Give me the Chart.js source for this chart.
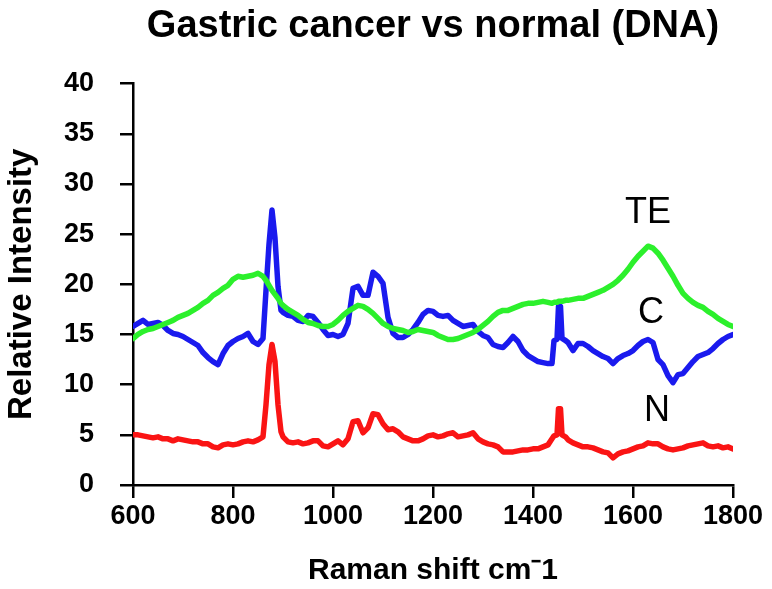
<!DOCTYPE html>
<html>
<head>
<meta charset="utf-8">
<script src="https://cdn.jsdelivr.net/npm/chart.js@4/dist/chart.umd.min.js"></script>
<style>
  html, body { margin: 0; padding: 0; background: #ffffff; }
  #wrap { width: 772px; height: 589px; }
</style>
</head>
<body>
<div id="wrap"><canvas id="c" width="772" height="589"></canvas></div>
<script>
// ---------- DATA ----------
const wavenumbers = [
  600,610,620,630,640,650,660,670,680,690,700,710,720,730,740,750,760,770,780,790,800,810,820,830,840,850,860,
  866,872,878,884,890,896,
  900,910,920,930,940,950,960,970,980,990,
  1000,1010,1020,1030,1040,1050,1060,1070,1080,1090,
  1100,1110,1120,1130,1140,1150,1160,1170,1180,1190,
  1200,1210,1220,1230,1240,1250,1260,1270,1280,1290,
  1300,1310,1320,1330,1340,1350,1360,1370,1380,1390,
  1400,1410,1420,1430,
  1438,1442,1448,1451,1455,1458,1465,
  1470,1480,1490,1500,1510,1520,1530,1540,1550,1560,
  1570,1580,1590,1600,1610,1620,1630,1640,1650,1660,
  1670,1680,1690,1700,1710,1720,1730,1740,1750,1760,
  1770,1780,1790,1800
];

const seriesTE = [
  14.6,15.0,15.3,15.5,15.6,15.8,16.0,16.2,16.4,16.7, 16.9,17.1,17.4,17.7,18.1,18.4,18.9,19.2,19.6,19.9, 20.5,20.8,20.7,20.8,20.9,21.1,20.8,
  20.4,19.9,19.4,19.0,18.6,18.1,
  17.9,17.5,17.2,16.9,16.5,16.2,16.1,15.9,15.8,15.8,
  16.0,16.4,16.9,17.3,17.6,17.9,17.8,17.5,17.1,16.6,
  16.1,15.8,15.6,15.5,15.4,15.2,15.3,15.5,15.4,15.3,
  15.2,14.9,14.7,14.5,14.5,14.6,14.8,15.0,15.2,15.5,
  15.9,16.3,16.8,17.2,17.4,17.4,17.6,17.8,18.0,18.1,
  18.1,18.2,18.3,18.2,
  18.1,18.2,18.2,18.3,18.3,18.3,18.4,
  18.4,18.5,18.6,18.6,18.8,19.0,19.2,19.4,19.7,20.0,
  20.4,20.9,21.5,22.2,22.8,23.3,23.8,23.6,23.1,22.4,
  21.6,20.8,19.9,19.1,18.6,18.2,17.9,17.7,17.3,17.0,
  16.6,16.3,16.0,15.8
];

const seriesC = [
  15.8,16.1,16.4,16.0,16.1,16.2,15.9,15.4,15.1,15.0, 14.8,14.5,14.2,13.9,13.2,12.7,12.3,12.0,13.1,13.9, 14.3,14.6,14.8,15.1,14.3,14.0,14.6,
  19.4,24.0,27.4,24.6,19.8,17.4,
  17.2,16.9,16.8,16.4,16.3,16.9,16.8,16.2,15.5,14.9,
  15.0,14.8,15.0,16.1,19.6,19.8,18.9,18.9,21.2,20.8,
  20.1,16.7,15.1,14.7,14.7,15.0,15.5,16.2,17.0,17.4,
  17.3,16.9,16.8,16.9,16.4,16.1,15.8,15.9,16.0,15.3,
  14.9,14.7,14.0,13.8,13.7,14.2,14.8,14.3,13.4,12.9,
  12.6,12.3,12.2,12.1,
  12.1,14.4,14.5,17.8,17.8,14.6,14.4,
  14.2,13.4,14.1,14.1,13.8,13.4,13.1,12.8,12.6,12.1,
  12.6,12.9,13.1,13.4,13.9,14.3,14.5,14.2,12.5,12.0,
  10.9,10.2,11.0,11.1,11.7,12.3,12.8,13.0,13.2,13.6,
  14.1,14.5,14.8,15.0
];

const seriesN = [
  5.0,5.0,4.9,4.8,4.7,4.8,4.6,4.6,4.4,4.6, 4.5,4.4,4.3,4.3,4.1,4.1,3.8,3.7,4.0,4.1, 4.0,4.1,4.3,4.4,4.3,4.5,4.8,
  8.0,12.0,14.0,12.3,8.0,5.3,
  4.8,4.3,4.2,4.3,4.1,4.2,4.4,4.4,3.9,3.8,
  4.1,4.4,4.0,4.6,6.3,6.4,5.2,5.7,7.1,7.0,
  6.1,5.5,5.6,5.3,4.8,4.6,4.4,4.4,4.6,4.9,
  5.0,4.8,4.9,5.1,5.2,4.8,4.9,5.0,5.2,4.6,
  4.3,4.1,4.0,3.8,3.3,3.3,3.3,3.4,3.5,3.5,
  3.6,3.6,3.8,4.0,
  4.6,4.9,5.0,7.6,7.6,5.0,4.8,
  4.5,4.2,4.0,3.8,3.8,3.7,3.5,3.3,3.2,2.7,
  3.1,3.3,3.4,3.6,3.8,3.9,4.2,4.1,4.1,3.8,
  3.6,3.5,3.6,3.7,3.9,4.0,4.1,4.2,3.9,3.8,
  3.9,3.7,3.8,3.6
];

const seriesNames = ['TE', 'C', 'N'];
const xTicks = [600, 800, 1000, 1200, 1400, 1600, 1800];
const yTicks = [0, 5, 10, 15, 20, 25, 30, 35, 40];

// In-plot series labels (data coordinates)
const labelTexts = ['TE', 'C', 'N'];
const labelX = [1630, 1636, 1648];
const labelY = [27.1, 17.15, 7.4];

// ---------- CHART ----------
const FONT = "'Liberation Sans', Arial, Helvetica, sans-serif";
const toPoints = (vals) => wavenumbers.map((x, i) => ({ x: x, y: vals[i] }));

const labelPlugin = {
  id: 'seriesLabels',
  afterDatasetsDraw(chart) {
    const ctx = chart.ctx;
    const xs = chart.scales.x, ys = chart.scales.y;
    ctx.save();
    ctx.fillStyle = '#000000';
    ctx.font = '36px ' + FONT;
    ctx.textAlign = 'center';
    ctx.textBaseline = 'middle';
    labelTexts.forEach((t, i) => {
      ctx.fillText(t, xs.getPixelForValue(labelX[i]), ys.getPixelForValue(labelY[i]));
    });
    ctx.restore();
  }
};

new Chart(document.getElementById('c'), {
  type: 'line',
  data: {
    datasets: [
      { label: seriesNames[0], data: toPoints(seriesTE), borderColor: '#2cf02c', backgroundColor: '#2cf02c' },
      { label: seriesNames[1], data: toPoints(seriesC), borderColor: '#1a1aee', backgroundColor: '#1a1aee' },
      { label: seriesNames[2], data: toPoints(seriesN), borderColor: '#fa1414', backgroundColor: '#fa1414' }
    ]
  },
  options: {
    responsive: false,
    animation: false,
    devicePixelRatio: 1,
    layout: { padding: { left: 0, right: 39, top: 0, bottom: 0 } },
    elements: {
      line: { borderWidth: 5.5, tension: 0, borderJoinStyle: 'round', borderCapStyle: 'round', fill: false },
      point: { radius: 0, hoverRadius: 0 }
    },
    plugins: {
      legend: { display: false },
      tooltip: { enabled: false },
      title: {
        display: true,
        text: 'Gastric cancer vs normal (DNA)',
        fullSize: false,
        color: '#000000',
        font: { family: FONT, size: 38, weight: 'bold', lineHeight: 1.2 },
        padding: { top: 4, bottom: 34 }
      }
    },
    scales: {
      x: {
        type: 'linear',
        min: 600,
        max: 1800,
        afterBuildTicks: (s) => { s.ticks = xTicks.map(v => ({ value: v })); },
        afterFit: (s) => { s.height = 104; },
        ticks: {
          color: '#000000',
          font: { family: FONT, size: 27, weight: 'bold', lineHeight: 1.2 },
          padding: 2,
          maxRotation: 0,
          autoSkip: false,
          callback: (v) => String(v)
        },
        grid: { display: true, drawOnChartArea: false, drawTicks: true, tickLength: 13, color: '#000000', lineWidth: 2.5 },
        border: { display: true, color: '#000000', width: 2.5 },
        title: {
          display: true,
          text: 'Raman shift cm\u207B1',
          color: '#000000',
          font: { family: FONT, size: 30, weight: 'bold', lineHeight: 1.2 },
          padding: { top: 0, bottom: 0 }
        }
      },
      y: {
        type: 'linear',
        min: 0,
        max: 40,
        afterBuildTicks: (s) => { s.ticks = yTicks.map(v => ({ value: v })); },
        afterFit: (s) => { s.width = 133; },
        ticks: {
          color: '#000000',
          font: { family: FONT, size: 27, weight: 'bold', lineHeight: 1.2 },
          padding: 26,
          autoSkip: false,
          callback: (v) => String(v)
        },
        grid: { display: true, drawOnChartArea: false, drawTicks: true, tickLength: 13, color: '#000000', lineWidth: 2.5 },
        border: { display: true, color: '#000000', width: 2.5 },
        title: {
          display: true,
          text: 'Relative Intensity',
          color: '#000000',
          font: { family: FONT, size: 33, weight: 'bold', lineHeight: 1.2 },
          padding: { top: 2, bottom: 0 }
        }
      }
    }
  },
  plugins: [labelPlugin]
});
</script>
</body>
</html>
